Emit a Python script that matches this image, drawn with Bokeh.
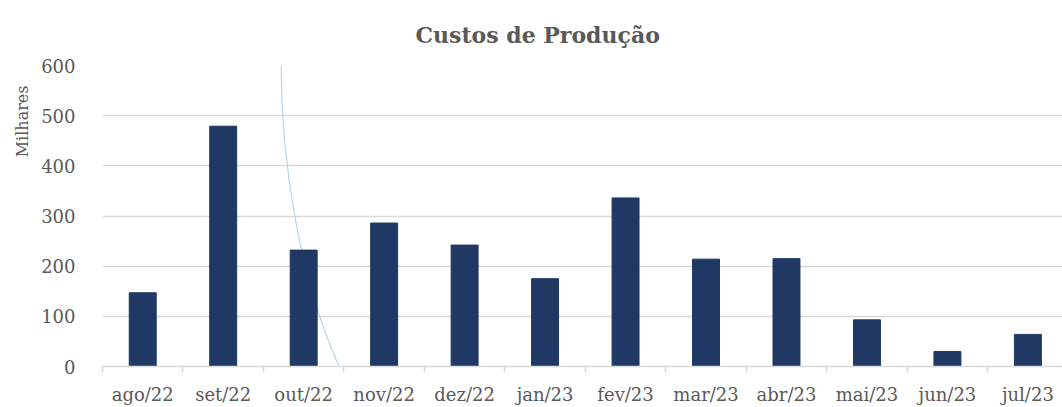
from bokeh.plotting import figure
from bokeh.models import Range1d, FixedTicker, Title
from bokeh.embed import file_html
from bokeh.resources import INLINE

# ---- data ----
months = ["ago/22", "set/22", "out/22", "nov/22", "dez/22", "jan/23",
          "fev/23", "mar/23", "abr/23", "mai/23", "jun/23", "jul/23"]
costs = [147, 479, 232, 286, 242, 175, 336, 214, 215, 93, 30, 64]
y_ticks = [0, 100, 200, 300, 400, 500, 600]
title_text = "Custos de Produção"
y_label = "Milhares"

# ---- style ----
FONT = "DejaVu Serif"
TXT = "#595959"
GRID = "#D9D9D9"
BAR = "#1F3864"

n = len(months)
centers = [i + 0.5 for i in range(n)]
bounds = list(range(n + 1))

p = figure(width=1062, height=407, output_backend="svg", toolbar_location=None,
           x_range=Range1d(0, 11.93), y_range=Range1d(0, 600),
           min_border_left=102, min_border_right=0, min_border_top=65,
           min_border_bottom=40)
p.outline_line_color = None
p.background_fill_color = "white"
p.border_fill_color = "white"

# title
p.title.text = title_text
p.title.text_font = FONT
p.title.text_font_size = "22px"
p.title.text_font_style = "bold"
p.title.text_color = TXT
p.title.align = "left"
p.title.offset = 313
p.title.standoff = 36

# vertical axis title placed near the top, as in the reference
p.add_layout(Title(text=y_label, text_font=FONT, text_font_size="16px",
                   text_font_style="normal", text_color=TXT,
                   align="right", offset=20, standoff=14), "left")

# decorative light-blue arc seen across the reference (not data)
p.bezier(x0=[2.22], y0=[600], x1=[2.94], y1=[0],
         cx0=[2.22], cy0=[402], cx1=[2.46], cy1=[173],
         line_color="#B4D5EA", line_width=1.2)

p.vbar(x=centers, top=costs, width=0.335, fill_color=BAR, line_color=BAR)

# x axis
xa = p.xaxis[0]
xa.ticker = FixedTicker(ticks=centers, minor_ticks=bounds)
xa.major_label_overrides = {c: m for c, m in zip(centers, months)}
xa.major_tick_out = 0
xa.major_tick_in = 0
xa.minor_tick_out = 6
xa.minor_tick_in = 0
xa.minor_tick_line_color = GRID
xa.minor_tick_line_width = 1.5
xa.axis_line_color = GRID
xa.axis_line_width = 1.5
xa.major_label_standoff = 11
xa.major_label_text_font = FONT
xa.major_label_text_font_size = "18px"
xa.major_label_text_color = TXT

# y axis
ya = p.yaxis[0]
ya.ticker = FixedTicker(ticks=y_ticks)
ya.axis_line_color = None
ya.major_tick_line_color = None
ya.major_tick_out = 0
ya.major_tick_in = 0
ya.minor_tick_line_color = None
ya.major_label_standoff = 27
ya.major_label_text_font = FONT
ya.major_label_text_font_size = "18px"
ya.major_label_text_color = TXT

p.xgrid.grid_line_color = None
p.ygrid.ticker = FixedTicker(ticks=y_ticks[1:])
p.ygrid.grid_line_color = GRID
p.ygrid.grid_line_width = 1.5

open("out.html", "w").write(file_html(p, INLINE))
